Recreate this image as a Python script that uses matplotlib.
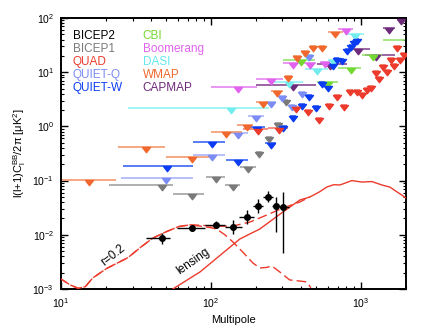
import matplotlib; matplotlib.use('Agg')
import matplotlib.pyplot as plt
from matplotlib.path import Path
import numpy as np

plt.rcParams.update({
    'font.family': ['Liberation Sans', 'DejaVu Sans'],
    'font.size': 7.5,
    'mathtext.fontset': 'custom',
    'mathtext.rm': 'Liberation Sans',
    'mathtext.it': 'Liberation Sans:italic',
    'mathtext.bf': 'Liberation Sans:bold',
})

# --- theory spectra ---
lens_ell = [55.7, 84.5, 156, 212, 300, 392, 457, 530, 593, 660, 725, 871, 1016, 1184, 1380, 1560, 1875, 1995]
lens_val = [0.0010, 0.00206, 0.00838, 0.0128, 0.026, 0.0439, 0.0498, 0.062, 0.0762, 0.084, 0.083, 0.100, 0.094, 0.096, 0.083, 0.076, 0.054, 0.048]

tens_ell = [10, 11.5, 13, 14.5, 16.3, 20.2, 23.7, 28, 34, 41, 50, 61, 72, 84.5, 100, 109, 124, 140, 163, 191, 212, 235, 255, 288, 335, 392, 437, 464]
tens_val = [0.00153, 0.00119, 0.00103, 0.00110, 0.00160, 0.00240, 0.00300, 0.00380, 0.00590, 0.00870, 0.0113, 0.0142, 0.0152, 0.0145, 0.0135, 0.0128, 0.0100, 0.0074, 0.0048, 0.0030, 0.00244, 0.0025, 0.00266, 0.00206, 0.00147, 0.00140, 0.00135, 0.00105]

tot_ell = [10, 11.5, 13, 14.5, 16.3, 20.2, 23.7, 28, 34, 41, 50, 61, 72, 84.5, 100, 115, 140, 182, 236, 302, 392, 457]
tot_val = [0.00153, 0.00119, 0.00103, 0.00110, 0.00160, 0.00240, 0.00300, 0.00380, 0.00590, 0.00870, 0.0113, 0.0142, 0.0153, 0.0150, 0.0146, 0.0144, 0.0145, 0.0172, 0.0232, 0.0312, 0.0403, 0.0500]

# --- BICEP2 bandpowers ---
b2_ell = [47, 75, 108, 140, 174, 206, 240, 271, 302]
b2_lo_ell = [36.9, 59.3, 91.2, 124, 153, 191, 222, 255, 287]
b2_hi_ell = [53.2, 91.2, 124, 161, 194, 222, 259, 287, 331]
b2_val = [0.0087, 0.0133, 0.0152, 0.0139, 0.0213, 0.0340, 0.0498, 0.0340, 0.0326]
b2_lo = [0.0069, 0.0116, 0.0132, 0.0104, 0.0158, 0.0253, 0.0400, 0.0113, 0.0046]
b2_hi = [0.0110, 0.0153, 0.0182, 0.0188, 0.0287, 0.0464, 0.0640, 0.0498, 0.0616]

# --- 95% upper limits from previous experiments: centre, bin low, bin high, value ---
b1_ell = [47.1, 74.7, 108, 140, 176, 209, 244, 280, 316]
b1_lo = [20.9, 55.8, 92.6, 124, 156, 200, 232, 268, 305]
b1_hi = [55.8, 89.8, 124, 156, 200, 220, 256, 292, 328]
b1_val = [0.083, 0.0566, 0.117, 0.083, 0.178, 0.337, 0.637, 1.16, 3.07]

quad_ell = [206, 284, 369, 443, 525, 612, 692, 771, 845, 940, 1016, 1096, 1167, 1259, 1318, 1403, 1489, 1585, 1660, 1738, 1820, 1936]
quad_lo = [163, 240, 352, 424, 501, 584, 660, 736, 807, 898, 970, 1047, 1114, 1202, 1259, 1340, 1422, 1513, 1585, 1660, 1738, 1849]
quad_hi = [240, 326, 386, 464, 550, 640, 725, 807, 885, 985, 1065, 1148, 1222, 1318, 1380, 1470, 1560, 1660, 1738, 1820, 1905, 2030]
quad_val = [0.895, 0.934, 2.28, 2.01, 1.43, 2.59, 3.80, 2.48, 4.70, 4.70, 4.13, 5.11, 5.56, 10.5, 8.15, 13.6, 11.0, 18.3, 14.2, 30.4, 18.3, 22.6]

qq_ell = [50.1, 101.6, 151, 200, 251, 298, 347, 404, 450]
qq_lo = [25.1, 75.9, 128, 176, 230, 280, 330, 386, 430]
qq_hi = [75.9, 124, 176, 226, 272, 316, 365, 424, 472]
qq_val = [0.112, 0.297, 0.755, 1.56, 2.82, 3.64, 2.48, 4.31, 20.8]

qw_ell = [50.9, 101.6, 151, 203, 251, 302, 352, 404, 450, 501, 550, 603, 650, 692, 747, 807, 857, 898, 940]
qw_lo = [25.9, 75.9, 126, 176, 229, 286, 335, 386, 430, 480, 525, 575, 625, 665, 720, 780, 830, 870, 910]
qw_hi = [75.9, 124, 176, 229, 272, 320, 370, 424, 472, 525, 575, 630, 675, 720, 775, 835, 885, 925, 970]
qw_val = [0.186, 0.515, 0.240, 0.975, 0.494, 1.02, 1.56, 2.59, 3.80, 2.38, 6.60, 5.56, 14.2, 18.3, 17.5, 26.8, 31.7, 37.7, 41.0]

cbi_ell = [398, 603, 857, 1202, 2200]
cbi_lo = [302, 509, 703, 1016, 1403]
cbi_hi = [494, 703, 1000, 1380, 3000]
cbi_val = [16.8, 6.60, 11.9, 20.8, 39.0]

boom_ell = [151, 251, 352, 457, 575, 794]
boom_lo = [100, 200, 302, 420, 530, 703]
boom_hi = [203, 302, 410, 500, 630, 885]
boom_val = [5.33, 7.49, 14.8, 14.8, 15.4, 62.6]

dasi_ell = [136, 331, 443, 509, 650, 912]
dasi_lo = [28.0, 255, 410, 424, 600, 782]
dasi_hi = [244, 410, 480, 603, 700, 1047]
dasi_val = [2.18, 6.60, 20.8, 11.5, 16.8, 50.7]

wmap_ell = [15.4, 36.9, 74.7, 126, 174, 222, 275, 326, 374, 424, 479, 550, 671]
wmap_lo = [10.0, 24.0, 50.1, 100, 149, 200, 251, 310, 352, 400, 455, 525, 603]
wmap_hi = [23.3, 49.4, 98.5, 161, 191, 240, 302, 345, 398, 450, 505, 580, 759]
wmap_val = [0.103, 0.417, 0.272, 0.788, 1.06, 2.82, 4.50, 8.51, 19.9, 24.6, 30.4, 30.4, 55.2]

cap_ell = [352, 623, 955, 1259, 1538, 1849]
cap_lo = [200, 509, 819, 1060, 1403, 1760]
cap_hi = [501, 807, 1148, 1686, 1686, 1940]
cap_val = [5.80, 14.2, 26.8, 20.8, 65.4, 95.6]

RED = '#ec3b2c'

fig = plt.figure(figsize=(4.31, 3.29), dpi=100)
ax = fig.add_axes([0.1415, 0.1216, 0.8005, 0.8237])

# downward triangle with its flat top sitting on the limit value
tri = Path([(-1, 0), (1, 0), (0, -1.3), (-1, 0)], closed=True)

def limits(ell, lo, hi, val, color, barcolor):
    ax.hlines(val, lo, hi, color=barcolor, lw=1.1, zorder=2)
    ax.plot(ell, val, ls='none', marker=tri, ms=7.5, color=color, mec=color, zorder=3)

limits(cap_ell, cap_lo, cap_hi, cap_val, '#6e2a7a', '#7e3a8a')
limits(dasi_ell, dasi_lo, dasi_hi, dasi_val, '#72ecec', '#86f2f2')
limits(boom_ell, boom_lo, boom_hi, boom_val, '#e062ee', '#e47af0')
limits(cbi_ell, cbi_lo, cbi_hi, cbi_val, '#74d832', '#8ee060')
limits(b1_ell, b1_lo, b1_hi, b1_val, '#7a7a7a', '#9a9a9a')
limits(qq_ell, qq_lo, qq_hi, qq_val, '#7c8cf6', '#a2aef8')
limits(qw_ell, qw_lo, qw_hi, qw_val, '#0c3cf2', '#2a58f2')
limits(wmap_ell, wmap_lo, wmap_hi, wmap_val, '#f0682e', '#f29060')
limits(quad_ell, quad_lo, quad_hi, quad_val, RED, '#f07060')

# theory: r=0.2 tensor, tensor + lensing, lensing
ax.plot(tens_ell, tens_val, color=RED, lw=1.0, ls=(0, (7, 3)), zorder=4)
ax.plot(tot_ell, tot_val, color=RED, lw=1.0, ls=(2, (7, 3)), zorder=4)
ax.plot(lens_ell, lens_val, color=RED, lw=1.0, zorder=4)

# BICEP2 detections
b2_val_a = np.array(b2_val)
yerr = [b2_val_a - np.array(b2_lo), np.array(b2_hi) - b2_val_a]
xerr = [np.array(b2_ell) - np.array(b2_lo_ell), np.array(b2_hi_ell) - np.array(b2_ell)]
ax.errorbar(b2_ell, b2_val, yerr=yerr, xerr=xerr, fmt='o', ms=4, color='black',
            ecolor='black', elinewidth=1.0, capsize=0, zorder=5)

ax.text(22.2, 0.0041, 'r=0.2', rotation=38, ha='center', va='center', fontsize=8.5)
ax.text(76, 0.0032, 'lensing', rotation=35, ha='center', va='center', fontsize=8.5)

# legend as coloured text
names = [('BICEP2', 'black'), ('BICEP1', '#7a7a7a'), ('QUAD', RED), ('QUIET-Q', '#7c8cf6'),
         ('QUIET-W', '#0c3cf2'), ('CBI', '#74d832'), ('Boomerang', '#e062ee'), ('DASI', '#64e8ee'),
         ('WMAP', '#f0682e'), ('CAPMAP', '#6e2a7a')]
for i, (name, c) in enumerate(names):
    col, row = divmod(i, 5)
    ax.text(0.034 + col * 0.203, 0.935 - row * 0.0485, name, color=c, fontsize=8.5,
            transform=ax.transAxes, va='center', ha='left')

ax.set_xscale('log')
ax.set_yscale('log')
ax.set_xlim(10, 2000)
ax.set_ylim(1e-3, 100)
ax.set_xlabel('Multipole', fontsize=8)
ax.set_ylabel(r'l(l+1)C$_\mathrm{l}^\mathrm{BB}$/2π [μK$^2$]', fontsize=8, labelpad=3)
ax.tick_params(which='both', direction='in', top=True, right=True, labelsize=7.5)
ax.tick_params(which='major', length=5, width=1.0, pad=5)
ax.tick_params(which='minor', length=2.5, width=0.8)
for s in ax.spines.values():
    s.set_linewidth(1.4)

fig.savefig('out.png', dpi=100)
